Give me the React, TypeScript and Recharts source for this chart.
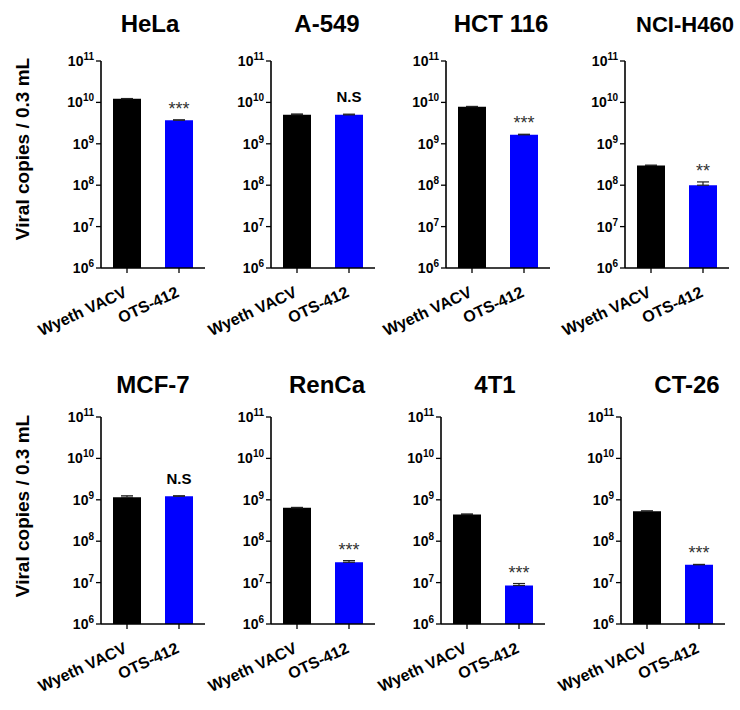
import { BarChart, Bar, XAxis, YAxis, ErrorBar, LabelList, Cell } from 'recharts'

const FONT = "Arial, 'Liberation Sans', sans-serif"

const groups = ['Wyeth VACV', 'OTS-412']
const cellLines = ['HeLa', 'A-549', 'HCT 116', 'NCI-H460', 'MCF-7', 'RenCa', '4T1', 'CT-26']
const wyethMean = [1.23e10, 5.05e9, 7.9e9, 3.0e8, 1.15e9, 6.4e8, 4.4e8, 5.3e8]
const wyethSd = [1e8, 2e8, 1e8, 4e6, 1e8, 1.5e7, 1.5e7, 1e7]
const otsMean = [3.73e9, 5.0e9, 1.65e9, 1.0e8, 1.22e9, 3.1e7, 8.5e6, 2.7e7]
const otsSd = [5e7, 2e8, 5e7, 2e7, 3e7, 3e6, 1e6, 5e5]
const significance = ['***', 'N.S', '***', '**', 'N.S', '***', '***', '***']
const yTicks = [1e6, 1e7, 1e8, 1e9, 1e10, 1e11]

const barColors = ['#000000', '#0000ff']

// layout: where each plot area starts, and title centres
const plotLeft = [101, 271, 446, 625, 101, 271, 441, 621]
const titleX = [150, 327, 501, 685, 153, 327, 495, 687]
const titleSize = [24, 24, 24, 22, 24, 24, 24, 24]
const rowPlotTop = [61, 417]
const PLOT_H = 207
const PLOT_W = 104
const Y_W = 50
const M_TOP = 10
const M_RIGHT = 6
const X_H = 80

function YTick(props: any) {
  const { x, y, payload } = props
  const exp = Math.round(Math.log10(payload.value))
  return (
    <text x={x} y={y} dy="0.35em" textAnchor="end" fontFamily={FONT} fontWeight="bold" fontSize={14} fill="#000">
      10
      <tspan dy="-0.6em" fontSize={10}>{exp}</tspan>
    </text>
  )
}

function XTick(props: any) {
  const { x, y, payload } = props
  return (
    <text
      x={x + 1}
      y={y + 21}
      textAnchor="end"
      transform={`rotate(-25, ${x + 1}, ${y + 21})`}
      fontFamily={FONT}
      fontWeight="bold"
      fontSize={16}
      fill="#000"
    >
      {payload.value}
    </text>
  )
}

function Panel({ i }: { i: number }) {
  const data = groups.map((g, k) => ({
    group: g,
    mean: k === 0 ? wyethMean[i] : otsMean[i],
    err: [0, k === 0 ? wyethSd[i] : otsSd[i]],
    sig: k === 0 ? '' : significance[i],
  }))
  const row = i < 4 ? 0 : 1

  const renderSig = (p: any) => {
    const { x, y, width, value, index } = p
    if (!value) return null
    const d = data[index]
    const errPx = Math.log10((d.mean + d.err[1]) / d.mean) * (PLOT_H / 5)
    const stars = value.startsWith('*')
    return (
      <text
        x={x + width / 2}
        y={y - errPx - (stars ? 5 : 12)}
        textAnchor="middle"
        fontFamily={FONT}
        fontWeight={stars ? 'normal' : 'bold'}
        fontSize={stars ? 18 : 15}
        fill={stars ? '#333' : '#000'}
      >
        {value}
      </text>
    )
  }

  return (
    <div style={{ position: 'absolute', left: plotLeft[i] - Y_W, top: rowPlotTop[row] - M_TOP }}>
      <BarChart
        width={Y_W + PLOT_W + M_RIGHT}
        height={M_TOP + PLOT_H + X_H}
        data={data}
        margin={{ top: M_TOP, right: M_RIGHT, bottom: 0, left: 0 }}
      >
        <XAxis
          dataKey="group"
          interval={0}
          height={X_H}
          tickSize={5}
          tickMargin={2}
          tick={<XTick />}
          axisLine={{ stroke: '#000', strokeWidth: 1.6 }}
          tickLine={{ stroke: '#000', strokeWidth: 1.3 }}
        />
        <YAxis
          type="number"
          scale="log"
          domain={[1e6, 1e11]}
          ticks={yTicks}
          allowDataOverflow
          width={Y_W}
          tickSize={5}
          tickMargin={2}
          tick={<YTick />}
          axisLine={{ stroke: '#000', strokeWidth: 1.6 }}
          tickLine={{ stroke: '#000', strokeWidth: 1.3 }}
        />
        <Bar dataKey="mean" barSize={28} isAnimationActive={false}>
          {data.map((_, k) => (
            <Cell key={k} fill={barColors[k]} />
          ))}
          <ErrorBar dataKey="err" width={6} stroke="#222" strokeWidth={1.2} direction="y" isAnimationActive={false} />
          <LabelList dataKey="sig" content={renderSig} />
        </Bar>
      </BarChart>
    </div>
  )
}

export default function App() {
  return (
    <div style={{ position: 'absolute', left: 0, top: 0, width: 740, height: 710, background: '#fff', overflow: 'hidden' }}>
      <style>{'.recharts-surface { overflow: visible; }'}</style>
      {cellLines.map((_, i) => (
        <Panel key={i} i={i} />
      ))}
      <svg width={740} height={710} style={{ position: 'absolute', left: 0, top: 0, pointerEvents: 'none' }}>
        {cellLines.map((name, i) => (
          <text
            key={name}
            x={titleX[i]}
            y={i < 4 ? 32 : 393}
            textAnchor="middle"
            fontFamily={FONT}
            fontWeight="bold"
            fontSize={titleSize[i]}
            fill="#000"
          >
            {name}
          </text>
        ))}
        {[149, 506].map((cy) => (
          <text
            key={cy}
            x={29}
            y={cy}
            transform={`rotate(-90, 29, ${cy})`}
            textAnchor="middle"
            fontFamily={FONT}
            fontWeight="bold"
            fontSize={19}
            fill="#000"
          >
            Viral copies / 0.3 mL
          </text>
        ))}
      </svg>
    </div>
  )
}
